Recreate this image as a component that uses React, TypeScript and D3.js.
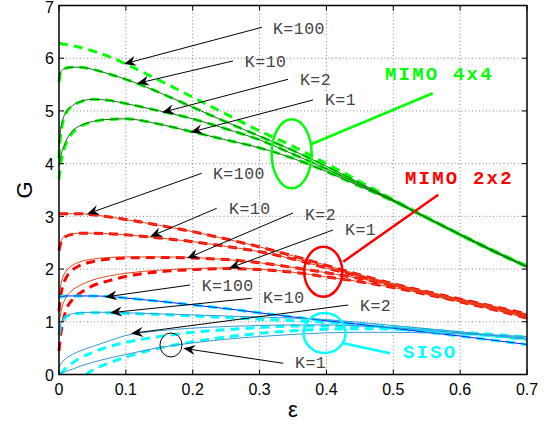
import React from 'react';
import * as d3 from 'd3';

// ---------- data ----------
const X_TICKS = [0, 0.1, 0.2, 0.3, 0.4, 0.5, 0.6, 0.7];
const Y_TICKS = [0, 1, 2, 3, 4, 5, 6, 7];

const EPS = [0, 0.002, 0.005, 0.01, 0.02, 0.03, 0.05, 0.075, 0.1, 0.15, 0.2, 0.25, 0.3, 0.35, 0.4, 0.45, 0.5, 0.55, 0.6, 0.65, 0.7];

// MIMO 4x4
const G4_K100_DASH = [6.28, 6.28, 6.27, 6.26, 6.24, 6.21, 6.14, 6.03, 5.89, 5.58, 5.26, 4.94, 4.62, 4.33, 4.0, 3.66, 3.32, 2.98, 2.66, 2.35, 2.06];
const G4_K10 = [5.6, 5.72, 5.78, 5.81, 5.83, 5.83, 5.79, 5.7, 5.6, 5.35, 5.07, 4.79, 4.52, 4.25, 3.95, 3.63, 3.31, 2.98, 2.66, 2.35, 2.05];
const G4_K10_DASH = [5.55, 5.7, 5.77, 5.81, 5.83, 5.83, 5.79, 5.7, 5.6, 5.35, 5.07, 4.79, 4.52, 4.25, 3.95, 3.63, 3.31, 2.98, 2.66, 2.35, 2.05];
const G4_K2 = [4.3, 4.6, 4.8, 4.97, 5.1, 5.17, 5.22, 5.2, 5.14, 5.0, 4.85, 4.66, 4.45, 4.18, 3.9, 3.6, 3.3, 2.97, 2.65, 2.34, 2.05];
const G4_K2_DASH = [4.1, 4.5, 4.75, 4.95, 5.09, 5.16, 5.22, 5.2, 5.14, 5.0, 4.85, 4.66, 4.45, 4.18, 3.9, 3.6, 3.3, 2.97, 2.65, 2.34, 2.05];
const G4_K1 = [3.95, 4.1, 4.25, 4.42, 4.62, 4.71, 4.8, 4.84, 4.85, 4.75, 4.6, 4.45, 4.3, 4.1, 3.85, 3.57, 3.29, 2.97, 2.65, 2.33, 2.04];
const G4_K1_DASH = [3.7, 3.95, 4.15, 4.36, 4.58, 4.69, 4.79, 4.84, 4.85, 4.75, 4.6, 4.45, 4.3, 4.1, 3.85, 3.57, 3.29, 2.97, 2.65, 2.33, 2.04];

// MIMO 2x2
const G2_K100 = [3.05, 3.05, 3.05, 3.05, 3.05, 3.05, 3.03, 2.99, 2.94, 2.83, 2.71, 2.57, 2.42, 2.25, 2.07, 1.89, 1.72, 1.57, 1.43, 1.29, 1.15];
const G2_K10 = [2.4, 2.5, 2.58, 2.63, 2.67, 2.68, 2.68, 2.67, 2.65, 2.59, 2.52, 2.43, 2.33, 2.19, 2.02, 1.86, 1.7, 1.55, 1.41, 1.27, 1.12];
const G2_K10_DASH = [2.35, 2.47, 2.56, 2.62, 2.66, 2.68, 2.68, 2.67, 2.65, 2.59, 2.52, 2.43, 2.33, 2.19, 2.02, 1.86, 1.7, 1.55, 1.41, 1.27, 1.12];
const G2_K2 = [1.45, 1.65, 1.82, 1.95, 2.07, 2.13, 2.19, 2.22, 2.23, 2.23, 2.22, 2.18, 2.12, 2.03, 1.93, 1.82, 1.69, 1.54, 1.4, 1.25, 1.1];
const G2_K2_DASH = [1.2, 1.45, 1.65, 1.82, 1.98, 2.06, 2.14, 2.19, 2.21, 2.22, 2.21, 2.18, 2.12, 2.03, 1.93, 1.82, 1.69, 1.54, 1.4, 1.25, 1.1];
const G2_K1 = [0.95, 1.12, 1.3, 1.45, 1.6, 1.68, 1.79, 1.87, 1.92, 1.98, 2.01, 2.02, 2.0, 1.94, 1.85, 1.76, 1.65, 1.52, 1.38, 1.23, 1.07];
const G2_K1_DASH = [0.45, 0.7, 0.95, 1.2, 1.42, 1.53, 1.68, 1.78, 1.86, 1.95, 1.99, 2.01, 1.99, 1.94, 1.85, 1.76, 1.65, 1.52, 1.38, 1.23, 1.07];

// SISO
const S_K100 = [1.45, 1.47, 1.48, 1.49, 1.49, 1.49, 1.49, 1.48, 1.45, 1.39, 1.32, 1.25, 1.17, 1.09, 1.02, 0.95, 0.88, 0.8, 0.73, 0.65, 0.57];
const S_K10 = [0.78, 0.92, 1.02, 1.1, 1.15, 1.17, 1.18, 1.18, 1.17, 1.15, 1.13, 1.11, 1.09, 1.07, 1.04, 0.99, 0.93, 0.87, 0.81, 0.74, 0.67];
const S_K10_DASH = [0.75, 0.9, 1.0, 1.09, 1.14, 1.16, 1.17, 1.17, 1.16, 1.14, 1.11, 1.08, 1.05, 1.02, 0.99, 0.95, 0.9, 0.85, 0.79, 0.73, 0.66];
const S_K2 = [0.12, 0.18, 0.24, 0.3, 0.38, 0.44, 0.53, 0.64, 0.74, 0.83, 0.88, 0.91, 0.93, 0.94, 0.94, 0.92, 0.89, 0.84, 0.79, 0.74, 0.69];
const S_K2_DASH = [null, 0.0, 0.05, 0.12, 0.22, 0.3, 0.42, 0.53, 0.61, 0.72, 0.8, 0.85, 0.89, 0.92, 0.92, 0.91, 0.88, 0.84, 0.79, 0.74, 0.68];
const S_K1 = [0.0, 0.01, 0.03, 0.06, 0.1, 0.15, 0.23, 0.31, 0.38, 0.51, 0.6, 0.67, 0.72, 0.76, 0.79, 0.8, 0.8, 0.79, 0.77, 0.75, 0.72];
const EPS_S_K1_DASH = [0.04, 0.05, 0.075, 0.1, 0.15, 0.2, 0.25, 0.3, 0.35, 0.4, 0.45, 0.5, 0.55, 0.6, 0.65, 0.7];
const S_K1_DASH = [0, 0.08, 0.22, 0.33, 0.5, 0.62, 0.71, 0.78, 0.83, 0.86, 0.87, 0.86, 0.84, 0.8, 0.76, 0.71];

// annotations: label, text (x,G), arrow start (x,G), arrow tip (x,G)
const K_LABELS = ['K=100', 'K=10', 'K=2', 'K=1', 'K=100', 'K=10', 'K=2', 'K=1', 'K=100', 'K=10', 'K=2', 'K=1'];
const K_TEXT_X = [0.320, 0.278, 0.3604, 0.3978, 0.2303, 0.2543, 0.3679, 0.4278, 0.2134, 0.3051, 0.4502, 0.353];
const K_TEXT_G = [6.555, 5.934, 5.587, 5.208, 3.804, 3.140, 3.026, 2.741, 1.679, 1.451, 1.300, 0.218];
const ARROW_FROM_X = [0.3036, 0.2602, 0.3425, 0.3799, 0.2134, 0.2359, 0.35, 0.4098, 0.1959, 0.2882, 0.4327, 0.3355];
const ARROW_FROM_G = [6.587, 5.948, 5.600, 5.208, 3.817, 3.153, 3.064, 2.741, 1.698, 1.446, 1.319, 0.2125];
const ARROW_TO_X = [0.0972, 0.1167, 0.1541, 0.1967, 0.0419, 0.1361, 0.1914, 0.2543, 0.0688, 0.0763, 0.1077, 0.1859];
const ARROW_TO_G = [5.891, 5.521, 4.971, 4.595, 3.045, 2.614, 2.204, 2.015, 1.470, 1.172, 0.778, 0.497];

const GROUP_NAMES = ['MIMO 4x4', 'MIMO 2x2', 'SISO'];
const GROUP_COLORS = ['#00ff00', '#ff0000', '#00ffff'];
const GROUP_TEXT_X = [0.4876, 0.5175, 0.5145];
const GROUP_TEXT_G = [5.698, 3.728, 0.427];
const ELLIPSE_X = [0.348, 0.3953, 0.3972];
const ELLIPSE_G = [4.187, 1.950, 0.787];
const ELLIPSE_RX = [0.0299, 0.0284, 0.0314];
const ELLIPSE_RG = [0.655, 0.474, 0.379];
const LEADER_FROM_X = [0.378, 0.4252, 0.4252];
const LEADER_FROM_G = [4.373, 2.140, 0.592];
const LEADER_TO_X = [0.559, 0.5673, 0.4951];
const LEADER_TO_G = [5.335, 3.411, 0.402];

const MARK_CIRCLE = { x: 0.1675, g: 0.56, rx: 0.01646, rg: 0.2277 };

export default function App() {
  const W = 549, H = 424;
  const x = d3.scaleLinear().domain([0, 0.7]).range([59, 527]);
  const y = d3.scaleLinear().domain([0, 7]).range([374.5, 5.5]);
  const [x0, x1] = x.range();
  const [y0, y1] = y.range();

  const mk = (xs: number[], gs: (number | null)[]) =>
    d3.line<[number, number | null]>()
      .defined((d) => d[1] !== null)
      .x((d) => x(d[0]))
      .y((d) => y(d[1] as number))
      .curve(d3.curveMonotoneX)(xs.map((v, i) => [v, gs[i]]) as any) || '';

  const dashed: { d: string; c: string }[] = [
    { d: mk(EPS, G4_K100_DASH), c: '#00ff00' },
    { d: mk(EPS, G4_K10_DASH), c: '#00ff00' },
    { d: mk(EPS, G4_K2_DASH), c: '#00ff00' },
    { d: mk(EPS, G4_K1_DASH), c: '#00ff00' },
    { d: mk(EPS, G2_K100), c: '#ff0000' },
    { d: mk(EPS, G2_K10_DASH), c: '#ff0000' },
    { d: mk(EPS, G2_K2_DASH), c: '#ff0000' },
    { d: mk(EPS, G2_K1_DASH), c: '#ff0000' },
    { d: mk(EPS, S_K100), c: '#00ffff' },
    { d: mk(EPS, S_K10_DASH), c: '#00ffff' },
    { d: mk(EPS, S_K2_DASH), c: '#00ffff' },
    { d: mk(EPS_S_K1_DASH, S_K1_DASH), c: '#00ffff' },
  ];
  const solid: { d: string; c: string }[] = [
    { d: mk(EPS, G4_K10), c: '#1f6a1f' },
    { d: mk(EPS, G4_K2), c: '#1f6a1f' },
    { d: mk(EPS, G4_K1), c: '#1f6a1f' },
    { d: mk(EPS, G2_K100), c: '#e4461e' },
    { d: mk(EPS, G2_K10), c: '#e4461e' },
    { d: mk(EPS, G2_K2), c: '#e4461e' },
    { d: mk(EPS, G2_K1), c: '#e4461e' },
    { d: mk(EPS, S_K100), c: '#1a1aff' },
    { d: mk(EPS, S_K10), c: '#3a96d6' },
    { d: mk(EPS, S_K2), c: '#3a96d6' },
    { d: mk(EPS, S_K1), c: '#3a96d6' },
  ];

  const arrow = (i: number) => {
    const sx = x(ARROW_FROM_X[i]), sy = y(ARROW_FROM_G[i]);
    const tx = x(ARROW_TO_X[i]), ty = y(ARROW_TO_G[i]);
    const len = Math.hypot(tx - sx, ty - sy);
    const ux = (tx - sx) / len, uy = (ty - sy) / len;
    const nx = -uy, ny = ux;
    const L = 12, w = 5, notch = 8;
    const head = [
      [tx, ty],
      [tx - L * ux + w * nx, ty - L * uy + w * ny],
      [tx - notch * ux, ty - notch * uy],
      [tx - L * ux - w * nx, ty - L * uy - w * ny],
    ];
    return (
      <g key={'a' + i}>
        <line x1={sx} y1={sy} x2={tx - notch * ux} y2={ty - notch * uy} stroke="#000" strokeWidth={1} />
        <path d={'M' + head.map((p) => p.join(',')).join('L') + 'Z'} fill="#000" />
        <text x={x(K_TEXT_X[i])} y={y(K_TEXT_G[i])} dy="0.33em" fontFamily="'Liberation Mono', monospace" fontSize={16.5} letterSpacing={0.5} fill="#444">{K_LABELS[i]}</text>
      </g>
    );
  };

  return (
    <svg width={W} height={H} style={{ position: 'absolute', left: 0, top: 0, background: '#fff' }}>
      {/* grid */}
      <g stroke="#8a8a8a" strokeWidth={1} strokeDasharray="1,2.5">
        {X_TICKS.slice(1, -1).map((t) => (
          <line key={'gx' + t} x1={x(t)} x2={x(t)} y1={y0} y2={y1} />
        ))}
        {Y_TICKS.slice(1, -1).map((t) => (
          <line key={'gy' + t} x1={x0} x2={x1} y1={y(t)} y2={y(t)} />
        ))}
      </g>
      {/* curves */}
      <g fill="none">
        {dashed.map((s, i) => (
          <path key={'d' + i} d={s.d} stroke={s.c} strokeWidth={3} strokeDasharray="9,6" />
        ))}
        {solid.map((s, i) => (
          <path key={'s' + i} d={s.d} stroke={s.c} strokeWidth={1} />
        ))}
      </g>
      {/* axes box and ticks */}
      <g stroke="#000" strokeWidth={1}>
        {X_TICKS.map((t) => (
          <g key={'tx' + t}>
            <line x1={x(t)} x2={x(t)} y1={y0} y2={y0 - 5} />
            <line x1={x(t)} x2={x(t)} y1={y1} y2={y1 + 5} />
          </g>
        ))}
        {Y_TICKS.map((t) => (
          <g key={'ty' + t}>
            <line x1={x0} x2={x0 + 5} y1={y(t)} y2={y(t)} />
            <line x1={x1} x2={x1 - 5} y1={y(t)} y2={y(t)} />
          </g>
        ))}
        <rect x={x0} y={y1} width={x1 - x0} height={y0 - y1} fill="none" strokeWidth={1.5} />
      </g>
      {/* tick labels */}
      <g fontFamily="'Liberation Sans', Arial, sans-serif" fontSize={16} fill="#000">
        {X_TICKS.map((t) => (
          <text key={'lx' + t} x={x(t)} y={395} textAnchor="middle">{String(t)}</text>
        ))}
        {Y_TICKS.map((t) => (
          <text key={'ly' + t} x={54} y={Math.max(y(t) + 0.5, 7)} dy="0.36em" textAnchor="end">{String(t)}</text>
        ))}
      </g>
      <text x={(x0 + x1) / 2} y={417} textAnchor="middle" fontFamily="'Liberation Sans', Arial, sans-serif" fontSize={22}>ε</text>
      <text transform={`translate(24,${(y0 + y1) / 2}) rotate(-90)`} textAnchor="middle" dy="0.36em" fontFamily="'Liberation Sans', Arial, sans-serif" fontSize={22}>G</text>
      {/* group annotations */}
      {GROUP_NAMES.map((nm, i) => (
        <g key={'grp' + i}>
          <ellipse cx={x(ELLIPSE_X[i])} cy={y(ELLIPSE_G[i])} rx={x(ELLIPSE_RX[i]) - x(0)} ry={y(0) - y(ELLIPSE_RG[i])} fill="none" stroke={GROUP_COLORS[i]} strokeWidth={2.5} />
          <line x1={x(LEADER_FROM_X[i])} y1={y(LEADER_FROM_G[i])} x2={x(LEADER_TO_X[i])} y2={y(LEADER_TO_G[i])} stroke={GROUP_COLORS[i]} strokeWidth={2.5} />
          <text x={x(GROUP_TEXT_X[i])} y={y(GROUP_TEXT_G[i])} dy="0.33em" fontFamily="'Liberation Mono', monospace" fontWeight="bold" fontSize={19} letterSpacing={2.2} fill={GROUP_COLORS[i]}>{nm}</text>
        </g>
      ))}
      <ellipse cx={x(MARK_CIRCLE.x)} cy={y(MARK_CIRCLE.g)} rx={x(MARK_CIRCLE.rx) - x(0)} ry={y(0) - y(MARK_CIRCLE.rg)} fill="none" stroke="#000" strokeWidth={1} />
      {K_LABELS.map((_, i) => arrow(i))}
    </svg>
  );
}
